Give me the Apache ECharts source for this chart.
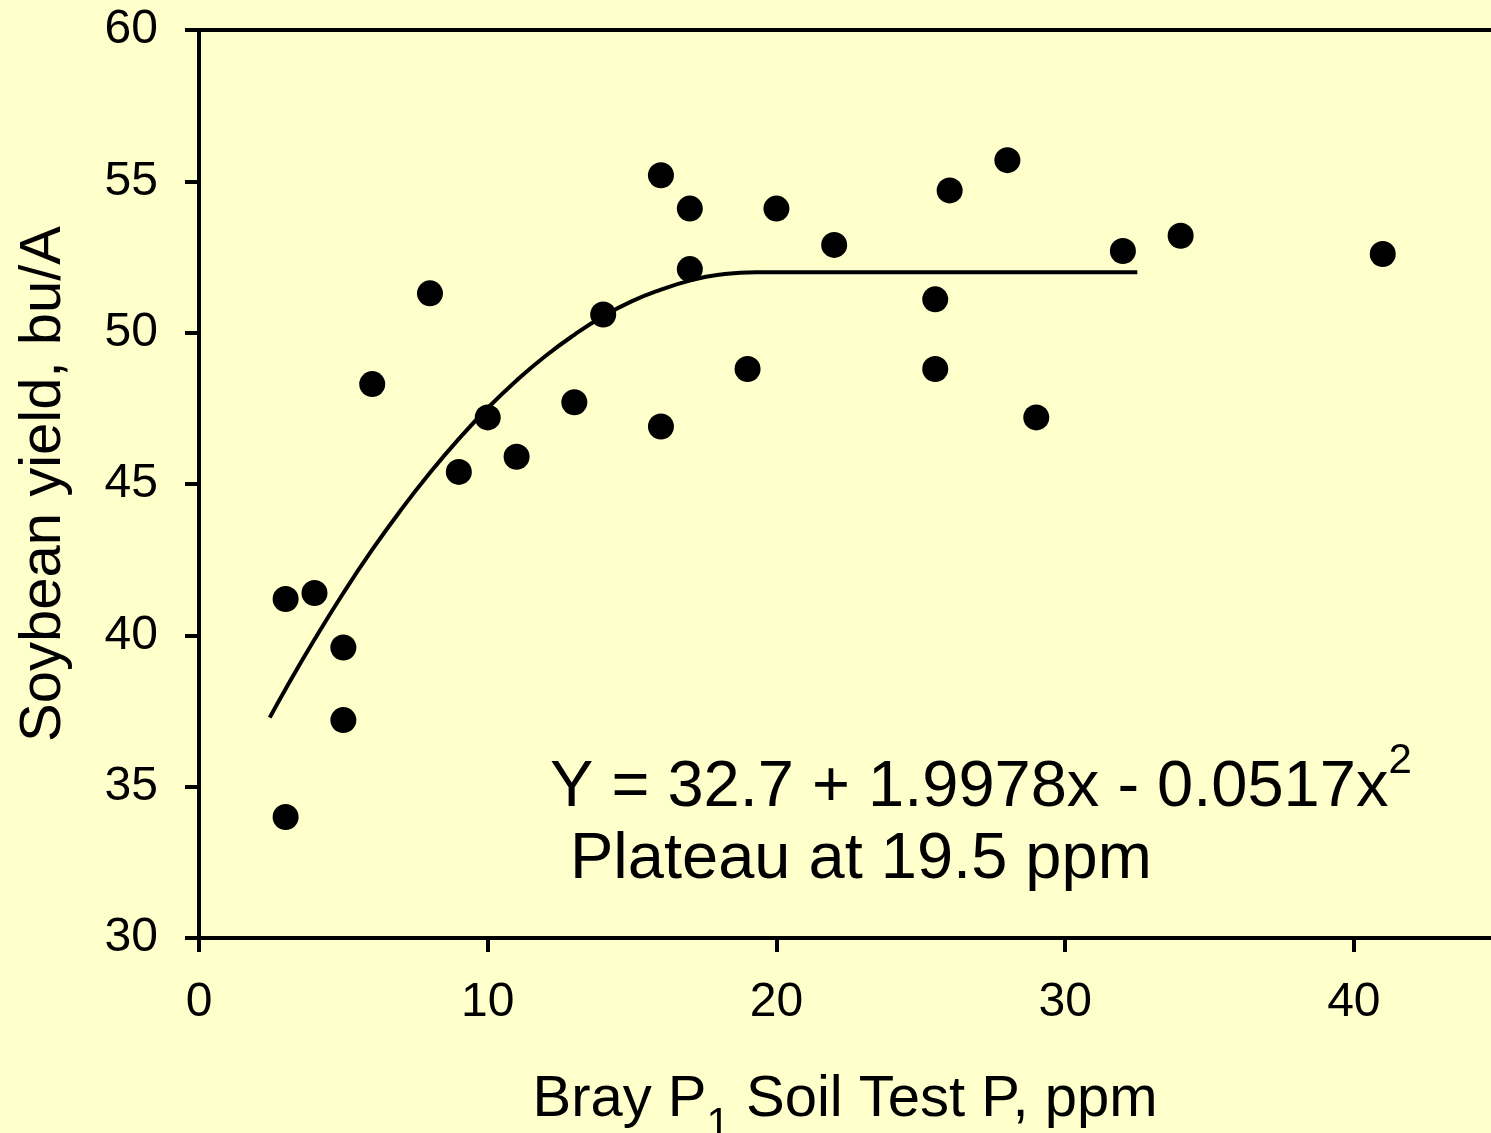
<!DOCTYPE html>
<html>
<head>
<meta charset="utf-8">
<script src="https://cdn.jsdelivr.net/npm/echarts@6/dist/echarts.min.js"></script>
<style>
html,body{margin:0;padding:0;background:#FFFFCC;}
#chart{width:1491px;height:1133px;}
</style>
</head>
<body>
<div id="chart"></div>
<script>
// Observed points: soil test P (ppm) and soybean yield (bu/A)
var pointX = [3, 3, 4, 5, 5, 6, 8, 9, 10, 11, 13, 14, 16, 16, 17, 17, 19, 20, 22, 25.5, 25.5, 26, 28, 29, 32, 34, 41];
var pointY = [41.2, 34.0, 41.4, 39.6, 37.2, 48.3, 51.3, 45.4, 47.2, 45.9, 47.7, 50.6, 55.2, 46.9, 54.1, 52.1, 48.8, 54.1, 52.9, 51.1, 48.8, 54.7, 55.7, 47.2, 52.7, 53.2, 52.6];
// Fitted curve
var curveX = [2.45, 3, 4, 5, 6, 7, 8, 9, 10, 11, 12, 13, 14, 15, 16, 17, 18, 19.3, 32.5];
var curveY = [37.28, 38.23, 39.86, 41.40, 42.83, 44.15, 45.37, 46.49, 47.51, 48.42, 49.23, 49.93, 50.54, 51.04, 51.42, 51.72, 51.91, 52.0, 52.0];
var xTicks = [0, 10, 20, 30, 40];
var yTicks = [30, 35, 40, 45, 50, 55, 60];

var FONT = "'Liberation Sans', Arial, sans-serif";
var chart = echarts.init(document.getElementById('chart'));

var scatterData = pointX.map(function (x, i) { return [x, pointY[i]]; });
var curveData = curveX.map(function (x, i) { return [x, curveY[i]]; });

chart.setOption({
  backgroundColor: '#FFFFCC',
  animation: false,
  grid: { left: 199, right: 0, top: 30, bottom: 195, containLabel: false, outerBoundsMode: 'none' },
  xAxis: [{
    type: 'value', min: 0, max: 44.75, interval: 10,
    name: '{t|Bray P}{s|1}{t| Soil Test P, ppm}',
    nameLocation: 'middle', nameGap: 133,
    nameTextStyle: {
      rich: {
        t: { fontFamily: FONT, fontSize: 58, lineHeight: 70, color: '#000', verticalAlign: 'top' },
        s: { fontFamily: FONT, fontSize: 42, lineHeight: 70, color: '#000', verticalAlign: 'top', padding: [33, 0, 0, 0] }
      }
    },
    axisLine: { show: true, onZero: false, lineStyle: { color: '#000', width: 4 } },
    axisTick: { show: true, inside: false, length: 14, customValues: xTicks, lineStyle: { color: '#000', width: 4 } },
    axisLabel: { customValues: xTicks, margin: 41, fontFamily: FONT, fontSize: 48, color: '#000' },
    splitLine: { show: false }
  }, {
    type: 'value', min: 0, max: 44.75, position: 'top',
    axisLine: { show: true, onZero: false, lineStyle: { color: '#000', width: 4 } },
    axisTick: { show: false }, axisLabel: { show: false }, splitLine: { show: false }
  }],
  yAxis: {
    type: 'value', min: 30, max: 60, interval: 5,
    name: 'Soybean yield, bu/A', nameLocation: 'middle', nameGap: 126, nameRotate: 90,
    nameTextStyle: { fontFamily: FONT, fontSize: 58, color: '#000' },
    axisLine: { show: true, onZero: false, lineStyle: { color: '#000', width: 4 } },
    axisTick: { show: true, inside: false, length: 14, lineStyle: { color: '#000', width: 4 } },
    axisLabel: { margin: 41, fontFamily: FONT, fontSize: 48, color: '#000',
      formatter: function (v) { return yTicks.indexOf(v) >= 0 ? String(v) : ''; } },
    splitLine: { show: false }
  },
  series: [{
    type: 'line', data: curveData, smooth: 0.5,
    showSymbol: false, symbol: 'none',
    lineStyle: { color: '#000', width: 4 }, z: 2
  }, {
    type: 'scatter', data: scatterData, symbol: 'circle', symbolSize: 26,
    itemStyle: { color: '#000', opacity: 1 }, z: 3
  }],
  graphic: [{
    type: 'text', left: 550, top: 740,
    style: {
      text: '{m|Y = 32.7 + 1.9978x - 0.0517x}{p|2}',
      rich: {
        m: { fontFamily: FONT, fontSize: 65, lineHeight: 80, fill: '#000', verticalAlign: 'top', padding: [16, 0, 0, 0] },
        p: { fontFamily: FONT, fontSize: 42, fill: '#000', verticalAlign: 'top' }
      }
    }
  }, {
    type: 'text', left: 570, top: 828,
    style: {
      text: '{m|Plateau at 19.5 ppm}',
      rich: { m: { fontFamily: FONT, fontSize: 65, lineHeight: 80, fill: '#000', verticalAlign: 'top' } }
    }
  }]
});
</script>
</body>
</html>
